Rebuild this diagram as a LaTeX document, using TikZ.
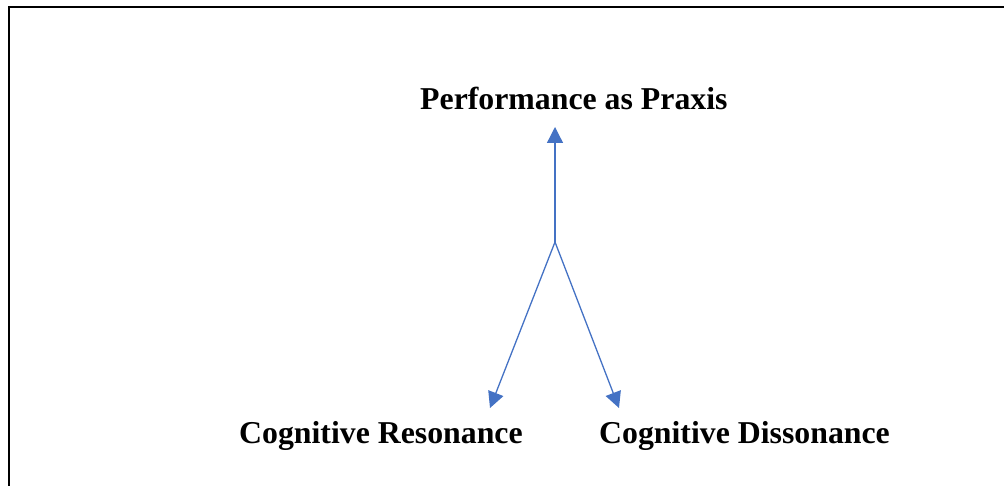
\documentclass[tikz,border=0pt]{standalone}
\usepackage{fontspec}
\setmainfont{Liberation Serif}
\usetikzlibrary{arrows.meta}
\definecolor{arrowblue}{HTML}{4472C4}
\tikzset{
  label/.style={anchor=base west, inner sep=0pt, font=\fontsize{31.8}{38}\selectfont\bfseries},
  conn/.style={draw=arrowblue, line width=1.3pt, -{Triangle[length=16pt,width=16pt]}, color=arrowblue},
  frame/.style={draw=black, line width=2pt}
}
\begin{document}
\begin{tikzpicture}[x=1pt,y=1pt]
\useasboundingbox (0,0) rectangle (1004,485);
\draw[frame] (8.5,-2) -- (8.5,478) -- (1010,478);
\node[label] (top) at (420,375) {Performance as Praxis};
\node[label] (res) at (239,42) {Cognitive Resonance};
\node[label] (dis) at (599,42) {Cognitive Dissonance};
\coordinate (hub) at (555,243);
\coordinate (tipTop) at (555,358);
\coordinate (tipRes) at (490,77);
\coordinate (tipDis) at (619,77);
\draw[conn] (hub) -- (tipTop);
\draw[conn] (hub) -- (tipRes);
\draw[conn] (hub) -- (tipDis);
\end{tikzpicture}
\end{document}
